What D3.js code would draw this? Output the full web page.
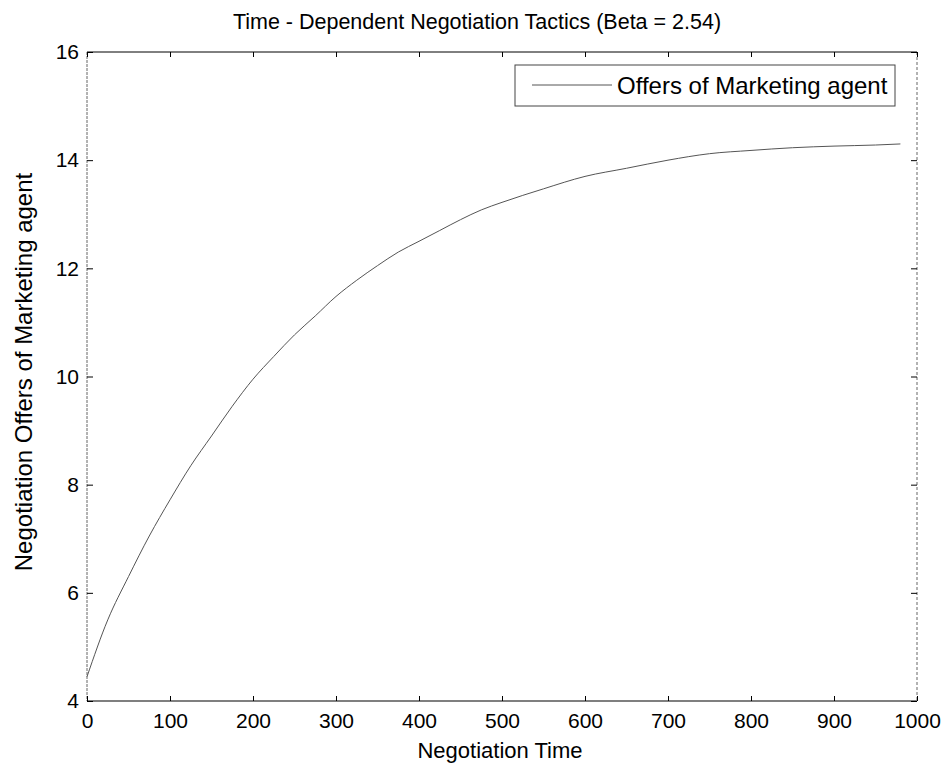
<!DOCTYPE html>
<html>
<head>
<meta charset="utf-8">
<script src="https://cdn.jsdelivr.net/npm/d3@7"></script>
<style>
  body { margin: 0; background: #fff; }
  text { font-family: "Liberation Sans", Arial, sans-serif; fill: #000; }
</style>
</head>
<body>
<div id="container"></div>
<script>
let w = 948;
let h = 769;

// DATA
let times  = [0, 25, 50, 75, 100, 125, 150, 175, 200, 225, 250, 275, 300, 325, 350, 375, 400, 425, 450, 475, 500, 550, 600, 650, 700, 750, 800, 850, 900, 950, 980];
let offers = [4.45, 5.5, 6.3, 7.05, 7.72, 8.35, 8.9, 9.45, 9.95, 10.37, 10.77, 11.12, 11.48, 11.78, 12.05, 12.3, 12.5, 12.7, 12.9, 13.08, 13.22, 13.47, 13.7, 13.85, 14.0, 14.12, 14.18, 14.23, 14.26, 14.28, 14.3];
let xTicks = [0, 100, 200, 300, 400, 500, 600, 700, 800, 900, 1000];
let yTicks = [4, 6, 8, 10, 12, 14, 16];
let titleText = "Time - Dependent Negotiation Tactics (Beta = 2.54)";
let xLabel = "Negotiation Time";
let yLabel = "Negotiation Offers of Marketing agent";
let legendLabel = "Offers of Marketing agent";

let padL = 87, padR = 917, padT = 52, padB = 701;

let x = d3.scaleLinear().domain([0, 1000]).range([padL, padR]);
let y = d3.scaleLinear().domain([4, 16]).range([padB, padT]);

let viz = d3.select("#container").append("svg")
    .attr("width", w)
    .attr("height", h)
    .style("background-color", "white");

// box: top and bottom solid, sides lighter like the scan
viz.append("line").attr("x1", padL).attr("x2", padR).attr("y1", padT).attr("y2", padT)
    .attr("stroke", "#000").attr("stroke-width", 1);
viz.append("line").attr("x1", padL).attr("x2", padR).attr("y1", padB).attr("y2", padB)
    .attr("stroke", "#000").attr("stroke-width", 1.2);
viz.append("line").attr("x1", padL).attr("x2", padL).attr("y1", padT).attr("y2", padB)
    .attr("stroke", "#666").attr("stroke-dasharray", "3,1");
viz.append("line").attr("x1", padR).attr("x2", padR).attr("y1", padT).attr("y2", padB)
    .attr("stroke", "#666").attr("stroke-dasharray", "3,2");

// axes with inward ticks
let xAxisB = d3.axisBottom(x).tickValues(xTicks).tickSize(-5).tickPadding(12).tickFormat(d3.format("d"));
let xAxisT = d3.axisTop(x).tickValues(xTicks).tickSize(-5).tickFormat("");
let yAxisL = d3.axisLeft(y).tickValues(yTicks).tickSize(-6).tickPadding(8).tickFormat(d3.format("d"));
let yAxisR = d3.axisRight(y).tickValues(yTicks).tickSize(-6).tickFormat("");

function styleAxis(g) {
    g.select(".domain").remove();
    g.selectAll(".tick line").attr("stroke", "#000");
    g.selectAll(".tick text")
        .style("font-family", "'Liberation Sans', Arial, sans-serif")
        .style("font-size", "21px")
        .attr("fill", "#000");
}

viz.append("g").attr("transform", `translate(0,${padB})`).call(xAxisB).call(styleAxis);
viz.append("g").attr("transform", `translate(0,${padT})`).call(xAxisT).call(styleAxis);
viz.append("g").attr("transform", `translate(${padL},0)`).call(yAxisL).call(styleAxis);
viz.append("g").attr("transform", `translate(${padR},0)`).call(yAxisR).call(styleAxis);

// curve
let lineMaker = d3.line()
    .x((d, i) => x(times[i]))
    .y(d => y(d))
    .curve(d3.curveMonotoneX);

viz.append("path")
    .datum(offers)
    .attr("d", lineMaker)
    .attr("fill", "none")
    .attr("stroke", "#555")
    .attr("stroke-width", 1);

// title and labels
viz.append("text")
    .attr("x", 477).attr("y", 29)
    .attr("text-anchor", "middle")
    .style("font-size", "21.5px")
    .text(titleText);

viz.append("text")
    .attr("x", 500).attr("y", 758)
    .attr("text-anchor", "middle")
    .style("font-size", "22px")
    .text(xLabel);

viz.append("text")
    .attr("transform", `translate(32,372) rotate(-90)`)
    .attr("text-anchor", "middle")
    .style("font-size", "24px")
    .text(yLabel);

// legend
let legend = viz.append("g");
legend.append("rect")
    .attr("x", 515).attr("y", 65)
    .attr("width", 380).attr("height", 41)
    .attr("fill", "white")
    .attr("stroke", "#444")
    .attr("stroke-width", 1);
legend.append("line")
    .attr("x1", 532).attr("x2", 612).attr("y1", 85).attr("y2", 85)
    .attr("stroke", "#555").attr("stroke-width", 1);
legend.append("text")
    .attr("x", 617).attr("y", 94)
    .style("font-size", "24px")
    .text(legendLabel);
</script>
</body>
</html>
